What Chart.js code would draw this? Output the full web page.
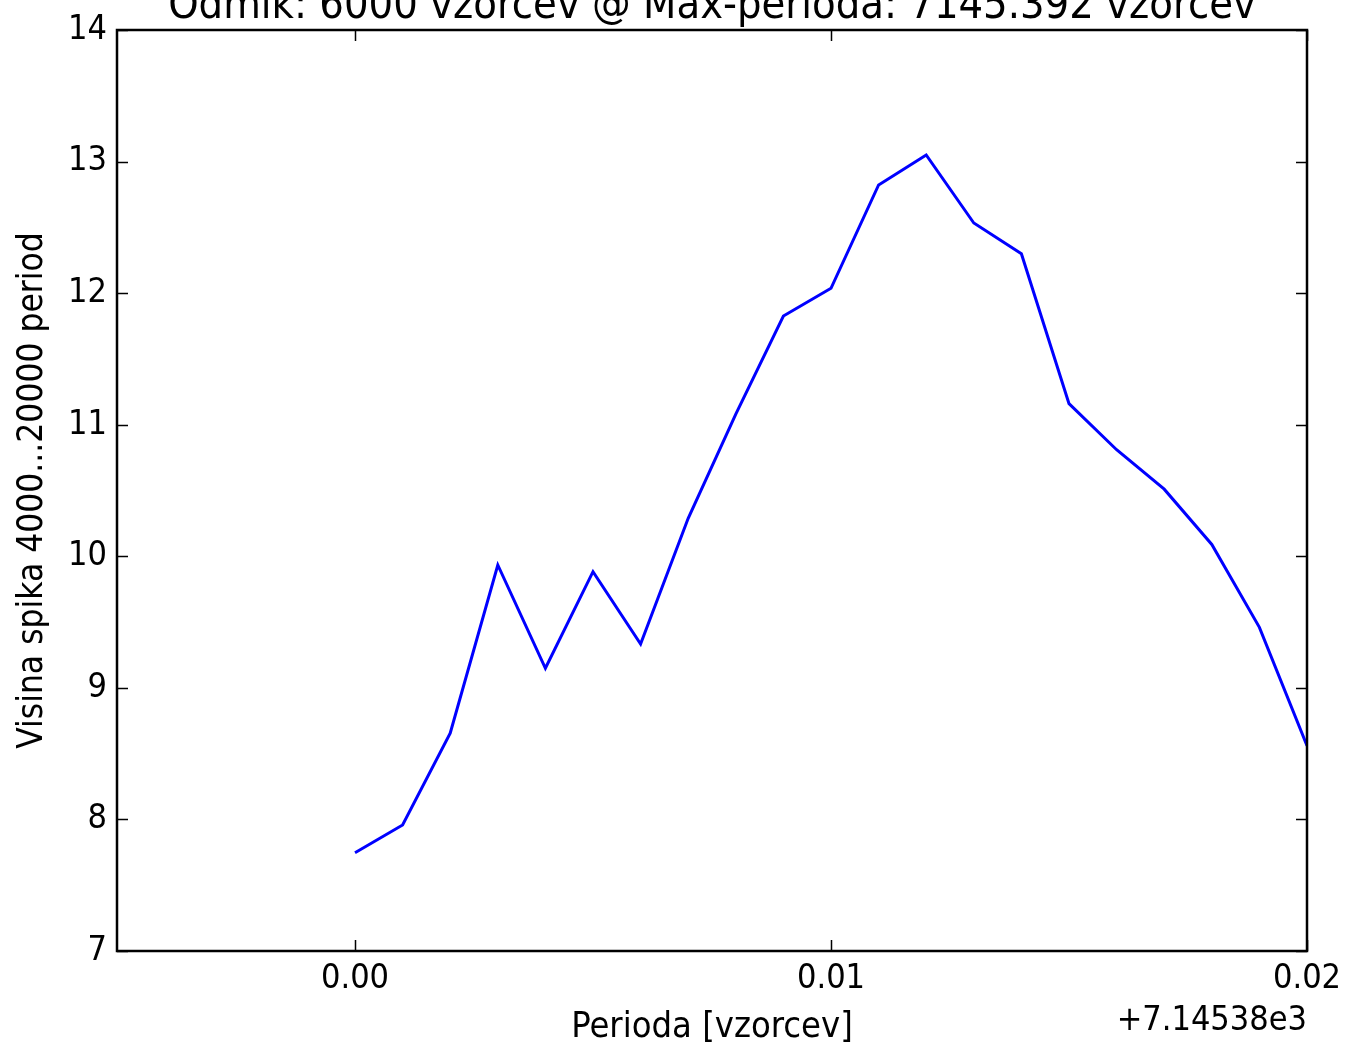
<!DOCTYPE html>
<html>
<head>
<meta charset="utf-8">
<script src="https://cdn.jsdelivr.net/npm/chart.js@4"></script>
<style>
html,body{margin:0;padding:0;background:#fff;}
#wrap{width:1345px;height:1043px;position:relative;}
</style>
</head>
<body>
<div id="wrap"><canvas id="c" width="1345" height="1043"></canvas></div>
<script>
// ---- data ----
const periodOffsets = [0.000,0.001,0.002,0.003,0.004,0.005,0.006,0.007,0.008,0.009,0.010,0.011,0.012,0.013,0.014,0.015,0.016,0.017,0.018,0.019,0.020];
const spikeHeights  = [7.747,7.958,8.655,9.934,9.149,9.883,9.333,10.289,11.08,11.826,12.037,12.822,13.05,12.533,12.30,11.16,10.81,10.51,10.09,9.46,8.56];
const xTickValues = [0.00, 0.01, 0.02];
const xTickLabels = ['0.00', '0.01', '0.02'];
const yTickValues = [7, 8, 9, 10, 11, 12, 13, 14];
const yTickLabels = ['7', '8', '9', '10', '11', '12', '13', '14'];
const titleText = 'Odmik: 6000 vzorcev @ Max-perioda: 7145.392 vzorcev';
const xLabelText = 'Perioda [vzorcev]';
const yLabelText = 'Visina spika 4000...20000 period';
const offsetText = '+7.14538e3';

const FAMILY = "'DejaVu Sans Condensed', 'DejaVu Sans', sans-serif";

const decorPlugin = {
  id: 'decor',
  afterDatasetsDraw(chart) {
    const ctx = chart.ctx;
    const a = chart.chartArea;
    const xs = chart.scales.x, ys = chart.scales.y;
    ctx.save();
    ctx.strokeStyle = '#000';
    ctx.lineWidth = 2.5;
    ctx.strokeRect(a.left, a.top, a.right - a.left, a.bottom - a.top);
    ctx.lineWidth = 1.5;
    const TL = 11;
    ctx.beginPath();
    xTickValues.forEach(v => {
      const px = Math.round(xs.getPixelForValue(v)) + 0.5;
      ctx.moveTo(px, a.bottom); ctx.lineTo(px, a.bottom - TL);
      ctx.moveTo(px, a.top); ctx.lineTo(px, a.top + TL);
    });
    yTickValues.forEach(v => {
      const py = Math.round(ys.getPixelForValue(v)) + 0.5;
      ctx.moveTo(a.left, py); ctx.lineTo(a.left + TL, py);
      ctx.moveTo(a.right, py); ctx.lineTo(a.right - TL, py);
    });
    ctx.stroke();
    ctx.restore();
  },
  afterDraw(chart) {
    const ctx = chart.ctx;
    const a = chart.chartArea;
    const cx = (a.left + a.right) / 2;
    ctx.save();
    ctx.fillStyle = '#000';
    ctx.font = '43px ' + FAMILY;
    ctx.textAlign = 'center';
    ctx.textBaseline = 'alphabetic';
    ctx.fillText(titleText, cx, 18);
    ctx.font = '36px ' + FAMILY;
    ctx.fillText(xLabelText, cx, 1037);
    ctx.font = '34px ' + FAMILY;
    ctx.textAlign = 'right';
    ctx.fillText(offsetText, a.right, 1030);
    ctx.font = '35px ' + FAMILY;
    ctx.translate(42, (a.top + a.bottom) / 2);
    ctx.rotate(-Math.PI / 2);
    ctx.textAlign = 'center';
    ctx.fillText(yLabelText, 0, 0);
    ctx.restore();
  }
};

new Chart(document.getElementById('c'), {
  type: 'line',
  data: {
    datasets: [{
      data: periodOffsets.map((x, i) => ({ x: x, y: spikeHeights[i] })),
      borderColor: '#0000ff',
      borderWidth: 3,
      pointRadius: 0,
      fill: false,
      tension: 0
    }]
  },
  options: {
    responsive: false,
    animation: false,
    devicePixelRatio: 1,
    layout: { padding: { top: 30, right: 38, bottom: 0, left: 0 } },
    plugins: { legend: { display: false }, tooltip: { enabled: false }, title: { display: false } },
    scales: {
      x: {
        type: 'linear',
        min: -0.005, max: 0.02,
        grid: { display: false, drawTicks: false },
        border: { display: false },
        afterBuildTicks(s) { s.ticks = xTickValues.map(v => ({ value: v })); },
        afterFit(s) { s.height = 92; s.paddingLeft = 0; s.paddingRight = 0; },
        ticks: {
          autoSkip: false,
          maxRotation: 0,
          padding: 8,
          color: '#000',
          font: { family: FAMILY, size: 34 },
          callback(v) { const i = xTickValues.findIndex(t => Math.abs(t - v) < 1e-9); return i >= 0 ? xTickLabels[i] : ''; }
        }
      },
      y: {
        type: 'linear',
        min: 7, max: 14,
        grid: { display: false, drawTicks: false },
        border: { display: false },
        afterBuildTicks(s) { s.ticks = yTickValues.map(v => ({ value: v })); },
        afterFit(s) { s.width = 117; s.paddingTop = 0; s.paddingBottom = 0; },
        ticks: {
          autoSkip: false,
          padding: 10,
          color: '#000',
          font: { family: FAMILY, size: 34 },
          callback(v) { const i = yTickValues.indexOf(v); return i >= 0 ? yTickLabels[i] : ''; }
        }
      }
    }
  },
  plugins: [decorPlugin]
});
</script>
</body>
</html>
